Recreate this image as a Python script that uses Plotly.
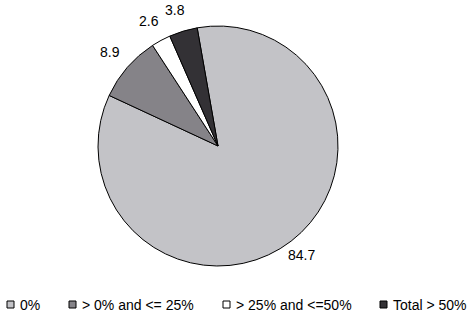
import math
import plotly.graph_objects as go

labels = ["0%", "> 0% and <= 25%", "> 25% and <=50%", "Total > 50%"]
values = [84.7, 8.9, 2.6, 3.8]
colors = ["#C3C3C7", "#858388", "#FFFFFF", "#333135"]

W, H = 468, 315
cx, cy, r = 218, 146, 120
start_deg = -10  # first slice starts 10 deg counter-clockwise of 12 o'clock

FONT = "Liberation Sans, Arial, sans-serif"
LBL_FONT = "Liberation Sans Narrow, Arial Narrow, Liberation Sans, Arial, sans-serif"

fig = go.Figure(go.Pie(
    labels=labels,
    values=values,
    sort=False,
    direction="clockwise",
    rotation=start_deg,
    marker=dict(colors=colors, line=dict(color="#000000", width=1)),
    textinfo="none",
    hoverinfo="label+value",
    showlegend=False,
    domain=dict(x=[(cx - r) / W, (cx + r) / W], y=[1 - (cy + r) / H, 1 - (cy - r) / H]),
))

# value labels outside the slices, placed from the slice mid-angles
total = sum(values)
acc = 0.0
R_lbl, dy_lbl = 140, -2
for v in values:
    mid = math.radians(start_deg + (acc + v / 2) / total * 360)
    acc += v
    px = cx + R_lbl * math.sin(mid) - 2
    py = cy - R_lbl * math.cos(mid) + dy_lbl
    fig.add_annotation(
        x=px / W, y=1 - py / H, xref="paper", yref="paper",
        text=f"{v}", showarrow=False, xanchor="center", yanchor="middle",
        font=dict(family=LBL_FONT, size=14, color="#000000"),
    )

# legend drawn at the bottom
leg_x = [7, 69, 223, 380]
leg_y = 304.5
sq = 7
for lab, col, lx in zip(labels, colors, leg_x):
    fig.add_shape(
        type="rect", xref="paper", yref="paper",
        x0=lx / W, x1=(lx + sq) / W,
        y0=1 - (leg_y + sq / 2) / H, y1=1 - (leg_y - sq / 2) / H,
        fillcolor=col, line=dict(color="#000000", width=1),
    )
    fig.add_annotation(
        x=(lx + sq + 5) / W, y=1 - leg_y / H, xref="paper", yref="paper",
        text=lab, showarrow=False, xanchor="left", yanchor="middle",
        font=dict(family=FONT, size=14, color="#000000"),
        borderpad=0,
    )

fig.update_layout(
    width=W, height=H,
    margin=dict(l=0, r=0, t=0, b=0),
    paper_bgcolor="#FFFFFF",
    plot_bgcolor="#FFFFFF",
    showlegend=False,
)

fig.write_html("out.html")
